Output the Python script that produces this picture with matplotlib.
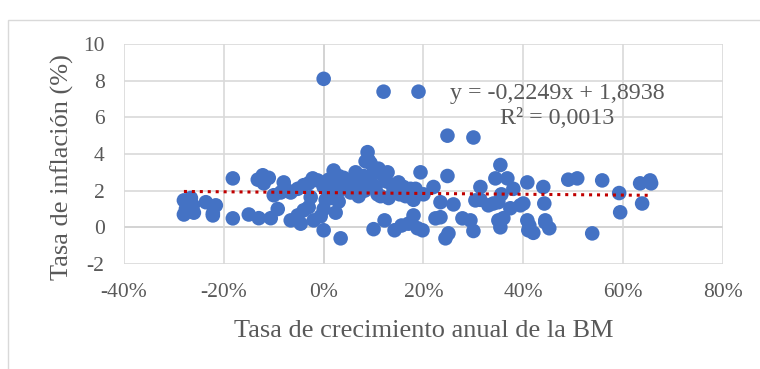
import matplotlib
matplotlib.use("Agg")
import matplotlib.pyplot as plt
from matplotlib.patches import Rectangle
from matplotlib.ticker import FuncFormatter, MultipleLocator
import numpy as np

# Tasa de crecimiento anual de la BM (fraccion) y tasa de inflacion (%)
bm = [-0.28, -0.28, -0.276, -0.266, -0.26, -0.262, -0.236, -0.222, -0.216, -0.222,
      -0.182, -0.182, -0.15, -0.132, -0.13, -0.122, -0.12, -0.11, -0.10, -0.106,
      -0.092, -0.086, -0.08, -0.072, -0.066, -0.066, -0.052, -0.052, -0.046, -0.04,
      -0.04, -0.03, -0.03, -0.026, -0.022, -0.02, -0.012, -0.006, 0.0, 0.0,
      0.0, 0.0, 0.004, 0.01, 0.014, 0.02, 0.02, 0.024, 0.028, 0.03,
      0.03, 0.034, 0.04, 0.044, 0.05, 0.054, 0.06, 0.064, 0.07, 0.072,
      0.08, 0.082, 0.084, 0.088, 0.09, 0.094, 0.096, 0.10, 0.10, 0.104,
      0.108, 0.11, 0.114, 0.12, 0.12, 0.122, 0.126, 0.128, 0.13, 0.138,
      0.14, 0.142, 0.15, 0.152, 0.156, 0.16, 0.164, 0.17, 0.174, 0.18,
      0.18, 0.184, 0.188, 0.19, 0.194, 0.198, 0.2, 0.22, 0.224, 0.234,
      0.234, 0.244, 0.248, 0.248, 0.25, 0.26, 0.278, 0.294, 0.30, 0.30,
      0.304, 0.314, 0.314, 0.33, 0.34, 0.344, 0.35, 0.35, 0.354, 0.354,
      0.356, 0.36, 0.368, 0.374, 0.38, 0.394, 0.40, 0.408, 0.408, 0.41,
      0.412, 0.42, 0.44, 0.442, 0.444, 0.444, 0.452, 0.49, 0.508, 0.538,
      0.558, 0.592, 0.594, 0.634, 0.638, 0.654, 0.656]
inflacion = [0.7, 1.47, 1.0, 1.6, 0.8, 1.2, 1.37, 0.76, 1.2, 0.65,
             2.67, 0.49, 0.7, 2.6, 0.5, 2.84, 2.4, 2.7, 1.75, 0.5,
             1.0, 1.9, 2.45, 2.0, 0.38, 1.9, 0.65, 2.1, 0.2, 2.3,
             0.93, 2.4, 1.1, 1.64, 2.67, 0.38, 2.56, 0.6, 8.1, 2.2,
             1.0, -0.16, 1.5, 2.6, 1.6, 3.1, 2.3, 0.8, 1.9, 2.8,
             1.4, -0.6, 2.7, 2.2, 2.5, 1.9, 2.3, 3.0, 1.7, 2.6,
             2.8, 2.0, 3.6, 4.1, 3.66, 3.5, 2.4, 3.0, -0.1, 2.2,
             1.8, 3.2, 1.7, 2.8, 7.4, 0.38, 2.5, 3.0, 1.6, 2.3,
             2.0, -0.16, 2.45, 1.8, 0.1, 2.2, 1.7, 0.2, 2.1, 0.65,
             1.5, 2.1, -0.05, 7.4, 3.0, -0.16, 1.8, 2.2, 0.49, 0.55,
             1.37, -0.6, 5.0, 2.8, -0.33, 1.25, 0.49, 0.38, 4.9, -0.2,
             1.47, 2.2, 1.5, 1.2, 1.3, 2.67, 1.37, 0.38, 3.4, 0.0,
             1.8, 0.5, 2.67, 1.04, 2.1, 1.2, 1.3, 2.45, 0.38, -0.16,
             0.1, -0.3, 2.2, 1.3, 0.27, 0.38, -0.05, 2.6, 2.67, -0.33,
             2.56, 1.87, 0.82, 2.4, 1.3, 2.56, 2.4]

# Linea de tendencia lineal (Excel)
pendiente = -0.2249
intercepto = 1.8938
r2 = 0.0013

plt.rcParams['font.family'] = ['Liberation Serif', 'DejaVu Serif']
gris = '#595959'

fig = plt.figure(figsize=(7.6, 3.69), dpi=100)
fig.patches.append(Rectangle((8 / 760, -0.1), 1.2, 1.1 - 20 / 369,
                             transform=fig.transFigure, fill=False,
                             edgecolor='#D9D9D9', linewidth=1.0))
ax = fig.add_axes([124 / 760, 1 - 264 / 369, 599 / 760, 220 / 369])

ax.scatter(bm, inflacion, s=110, color='#4472C4', edgecolors='none', zorder=3)

xt = np.linspace(min(bm), max(bm), 40)
ax.plot(xt, pendiente * xt + intercepto, color='#C00000', linestyle=(0, (1, 1.6)),
        linewidth=2.2, zorder=4)

ax.set_xlim(-0.4, 0.8)
ax.set_ylim(-2, 10)
ax.xaxis.set_major_locator(MultipleLocator(0.2))
ax.yaxis.set_major_locator(MultipleLocator(2))
ax.xaxis.set_major_formatter(FuncFormatter(lambda v, p: f"{v * 100:.0f}%"))
ax.yaxis.set_major_formatter(FuncFormatter(lambda v, p: f"{v:.0f}"))

ax.grid(True, color='#D9D9D9', linewidth=1.2, zorder=0)
ax.axhline(0, color='#BFBFBF', linewidth=1.4, zorder=1)
ax.axvline(0, color='#BFBFBF', linewidth=1.4, zorder=1)
for s in ax.spines.values():
    s.set_visible(False)
ax.tick_params(length=0, labelsize=15.5, labelcolor=gris)
ax.tick_params(axis='x', pad=14)
ax.tick_params(axis='y', pad=14)

ax.set_xlabel('Tasa de crecimiento anual de la BM', fontsize=19, color=gris)
ax.set_ylabel('Tasa de inflación (%)', fontsize=19, color=gris)
ax.xaxis.set_label_coords(0.5, -0.255)
ax.yaxis.set_label_coords(-0.083, 0.44)

fig.text(557 / 760, 1 - 105.5 / 369,
         f"y = {pendiente:.4f}x + {intercepto:.4f}\nR² = {r2:.4f}".replace('.', ','),
         ha='center', va='center', multialignment='center', fontsize=17.3,
         color=gris, linespacing=1.25)

fig.savefig('out.png', dpi=100)
